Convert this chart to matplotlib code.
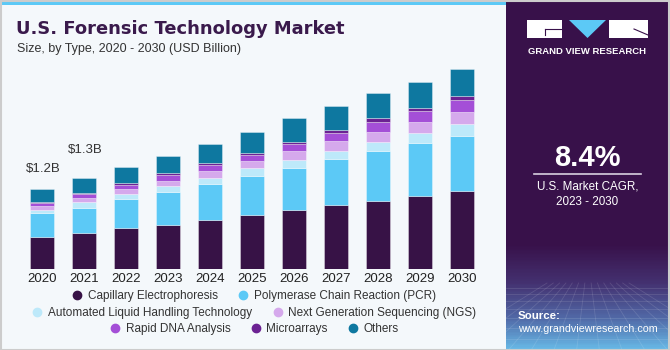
import matplotlib
matplotlib.use("Agg")
import matplotlib.pyplot as plt
import numpy as np
from matplotlib.patches import Rectangle, Polygon
from matplotlib.lines import Line2D
from matplotlib.colors import LinearSegmentedColormap

# ---------------- data ----------------
years = ["2020", "2021", "2022", "2023", "2024", "2025",
         "2026", "2027", "2028", "2029", "2030"]
segments = ["Capillary Electrophoresis", "Polymerase Chain Reaction (PCR)",
            "Automated Liquid Handling Technology", "Next Generation Sequencing (NGS)",
            "Rapid DNA Analysis", "Microarrays", "Others"]
capillary = [0.463, 0.521, 0.594, 0.647, 0.715, 0.788, 0.857, 0.934, 0.997, 1.070, 1.143]
pcr       = [0.350, 0.375, 0.423, 0.482, 0.526, 0.574, 0.622, 0.667, 0.726, 0.769, 0.803]
liquid    = [0.048, 0.088, 0.077, 0.083, 0.092, 0.108, 0.117, 0.121, 0.136, 0.146, 0.166]
ngs       = [0.063, 0.058, 0.069, 0.077, 0.098, 0.111, 0.127, 0.146, 0.146, 0.161, 0.184]
rapid     = [0.034, 0.048, 0.058, 0.083, 0.088, 0.083, 0.102, 0.117, 0.142, 0.161, 0.175]
micro     = [0.025, 0.015, 0.029, 0.025, 0.029, 0.034, 0.034, 0.048, 0.058, 0.048, 0.058]
others    = [0.180, 0.219, 0.234, 0.257, 0.273, 0.307, 0.342, 0.346, 0.361, 0.380, 0.399]
value_labels = {"2020": "$1.2B", "2021": "$1.3B"}
cagr_text = "8.4%"
cagr_caption = "U.S. Market CAGR,\n2023 - 2030"

series = [capillary, pcr, liquid, ngs, rapid, micro, others]
colors = ["#371246", "#5CC9F6", "#BDE9FA", "#D5A9EC", "#A44FD7", "#6C2293", "#0E78A0"]

plt.rcParams['font.family'] = ['Liberation Sans', 'DejaVu Sans']

W, H = 670, 350
fig = plt.figure(figsize=(6.7, 3.5), dpi=100)
BG = "#F4F8FB"
fig.patch.set_facecolor(BG)

def fx(px):
    return px / W

def fy(py):
    return 1 - py / H

# ---------------- main bar axes ----------------
ax = fig.add_axes([fx(12.6), fy(269), fx(491.9 - 12.6), 219 / H])
ax.set_facecolor("none")
x = np.arange(len(years))
bottom = np.zeros(len(years))
for vals, col in zip(series, colors):
    vals = np.array(vals)
    ax.bar(x, vals, width=0.57, bottom=bottom, color=col,
           edgecolor=(1, 1, 1, 0.35), linewidth=0.7, zorder=2)
    bottom += vals
ax.set_xlim(-0.7, len(years) - 1 + 0.7)
ax.set_ylim(0, 3.2)
for s in ax.spines.values():
    s.set_visible(False)
ax.set_yticks([])
ax.set_xticks(x)
ax.set_xticklabels(years, fontsize=9.5, color="#222222")
ax.tick_params(axis="x", length=0, pad=3)

offsets = {"2020": 20, "2021": 28}
for i, yr in enumerate(years):
    if yr in value_labels:
        ax.annotate(value_labels[yr], xy=(i, bottom[i]), xytext=(1.5, offsets[yr]),
                    textcoords="offset pixels", ha="center", va="center",
                    fontsize=9.5, color="#333333")

# ---------------- titles ----------------
fig.text(fx(16.5), fy(29), "U.S. Forensic Technology Market", fontsize=12.9,
         fontweight="bold", color="#3A1A4C", ha="left", va="center",
         family=["DejaVu Sans"])
fig.text(fx(17), fy(49), "Size, by Type, 2020 - 2030 (USD Billion)", fontsize=9,
         color="#333333", ha="left", va="center")

# ---------------- legend ----------------
handles = [Line2D([0], [0], marker="o", linestyle="none", markersize=6,
                  markerfacecolor=c, markeredgecolor=c) for c in colors]
rows = [[0, 1], [2, 3], [4, 5, 6]]
row_y = [296, 313, 329]
for r, yy in zip(rows, row_y):
    lg = fig.legend([handles[k] for k in r], [segments[k] for k in r],
                    loc="center", bbox_to_anchor=(fx(254.5), fy(yy)), ncol=len(r),
                    frameon=False, fontsize=8.5, handlelength=0.8, handletextpad=0.5,
                    columnspacing=1.75, borderpad=0, borderaxespad=0)
    for t in lg.get_texts():
        t.set_color("#333333")

# ---------------- top stripe ----------------
fig.add_artist(Rectangle((0, fy(5)), fx(506), 5 / H, transform=fig.transFigure,
                         facecolor="#5CC9F6", edgecolor="none", zorder=1))

# ---------------- right panel ----------------
pax = fig.add_axes([fx(506), 0, fx(W - 506), 1])
pax.set_xlim(0, 1)
pax.set_ylim(H, 0)
pax.axis("off")
cmap = LinearSegmentedColormap.from_list(
    "panel", [(0.0, "#38114A"), (0.70, "#38114A"), (0.81, "#443170"),
              (0.91, "#5168A6"), (1.0, "#68B8E6")])
grad = np.linspace(0, 1, 350).reshape(-1, 1)
pax.imshow(grad, aspect="auto", cmap=cmap, extent=[0, 1, H, 0], zorder=0)
# faint grid texture
for k in range(14):
    xx = k / 13
    pax.plot([0.5 + (xx - 0.5) * 0.5, 0.5 + (xx - 0.5) * 1.8], [283, 350],
             color=(1, 1, 1, 0.12), lw=0.6, zorder=1)
for yy in [288, 294, 301, 309, 318, 328, 339]:
    pax.plot([0, 1], [yy, yy], color=(1, 1, 1, 0.12), lw=0.6, zorder=1)

# logo
pw = W - 506
def px(p):
    return (p - 506) / pw
pax.add_patch(Rectangle((px(527), 20), px(562) - px(527), 18, facecolor="white",
                        edgecolor="none", zorder=2))
pax.plot([px(545), px(562)], [29, 29], color="#38114A", lw=0.8, zorder=3)
pax.plot([px(545), px(545)], [29, 35], color="#38114A", lw=0.8, zorder=3)
pax.add_patch(Polygon([[px(569), 20], [px(606), 20], [px(587.5), 38]],
                      facecolor="#5CC9F6", edgecolor="none", zorder=2))
pax.add_patch(Rectangle((px(609), 20), px(648) - px(609), 18, facecolor="white",
                        edgecolor="none", zorder=2))
pax.plot([px(634), px(648)], [29, 35], color="#38114A", lw=0.8, zorder=3)
pax.text(px(587.5), 51, "GRAND VIEW RESEARCH", fontsize=6.8, fontweight="bold",
         color="white", ha="center", va="center", zorder=3)

pax.text(px(587.5), 158, cagr_text, fontsize=21, fontweight="bold", color="white",
         ha="center", va="center", zorder=3)
pax.plot([px(534), px(641)], [173.5, 173.5], color="#D8D0E0", lw=1.2, zorder=3)
pax.text(px(587.5), 194, cagr_caption, fontsize=8.4, color="white",
         ha="center", va="center", linespacing=1.35, zorder=3)
pax.text(px(518), 316, "Source:", fontsize=8.2, fontweight="bold", color="white",
         ha="left", va="center", zorder=3)
pax.text(px(518), 329.5, "www.grandviewresearch.com", fontsize=7.7, color="white",
         ha="left", va="center", zorder=3)

# outer border
fig.add_artist(Rectangle((0.5 / W, 0.5 / H), 1 - 1.5 / W, 1 - 1.5 / H,
                         transform=fig.transFigure, facecolor="none",
                         edgecolor="#CCCCCC", lw=1.5, zorder=10))

fig.savefig("out.png", dpi=100, facecolor=fig.get_facecolor())
